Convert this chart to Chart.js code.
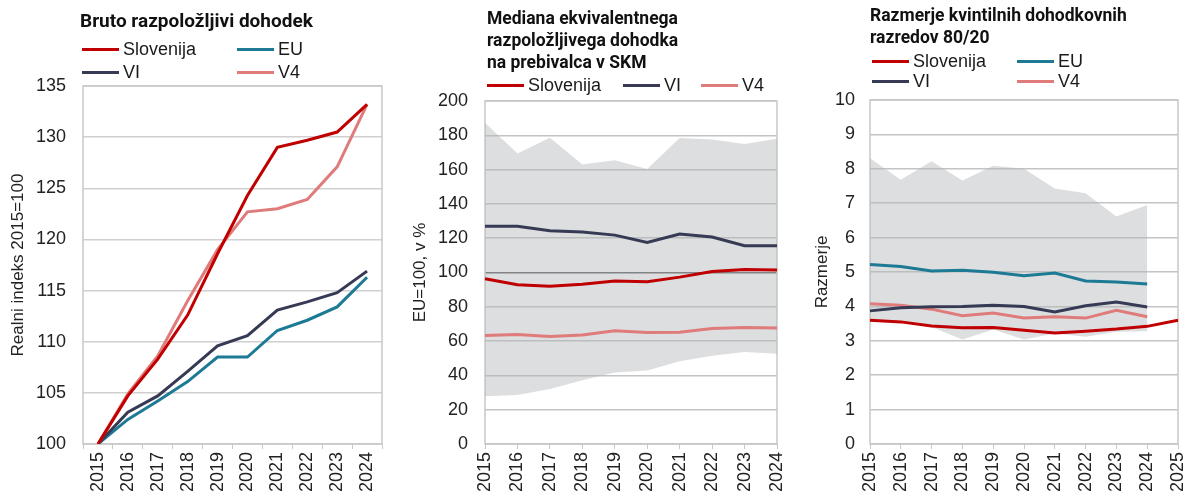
<!DOCTYPE html>
<html>
<head>
<meta charset="utf-8">
<script src="https://cdn.jsdelivr.net/npm/chart.js@4.4.1/dist/chart.umd.min.js"></script>
<style>
  body { margin: 0; background: #fff; width: 1188px; height: 496px; position: relative; overflow: hidden;
         font-family: "Liberation Sans", Arial, sans-serif; color: #1a1a1a; }
  canvas { position: absolute; top: 0; }
  .title { position: absolute; font-family: Roboto, "Liberation Sans", sans-serif; font-weight: bold;
           font-size: 17.5px; line-height: 22px; color: #111; white-space: nowrap; }
  .leg { position: absolute; font-size: 18px; line-height: 20px; white-space: nowrap; }
  .leg i { display: inline-block; width: 37px; height: 3px; vertical-align: middle; margin-right: 4px; position: relative; top: -1px; }
</style>
</head>
<body>
<canvas id="c1" width="400" height="496" style="left:0"></canvas>
<canvas id="c2" width="400" height="496" style="left:400px"></canvas>
<canvas id="c3" width="388" height="496" style="left:800px"></canvas>

<div class="title" style="left:80px;top:10px;font-size:19px">Bruto razpoložljivi dohodek</div>
<div class="leg" style="left:82px;top:39px"><i style="background:#C00000"></i>Slovenija</div>
<div class="leg" style="left:237px;top:39px"><i style="background:#1D7A94"></i>EU</div>
<div class="leg" style="left:82px;top:62px"><i style="background:#363A55"></i>VI</div>
<div class="leg" style="left:237px;top:62px"><i style="background:#E07B7B"></i>V4</div>

<div class="title" style="left:487px;top:7px">Mediana ekvivalentnega<br>razpoložljivega dohodka<br>na prebivalca v SKM</div>
<div class="leg" style="left:487px;top:75px"><i style="background:#C00000"></i>Slovenija</div>
<div class="leg" style="left:623px;top:75px"><i style="background:#363A55"></i>VI</div>
<div class="leg" style="left:701px;top:75px"><i style="background:#E07B7B"></i>V4</div>

<div class="title" style="left:870px;top:4px">Razmerje kvintilnih dohodkovnih<br>razredov 80/20</div>
<div class="leg" style="left:872px;top:51px"><i style="background:#C00000"></i>Slovenija</div>
<div class="leg" style="left:1017px;top:51px"><i style="background:#1D7A94"></i>EU</div>
<div class="leg" style="left:872px;top:71px"><i style="background:#363A55"></i>VI</div>
<div class="leg" style="left:1017px;top:71px"><i style="background:#E07B7B"></i>V4</div>

<script>
// panel 1: bruto razpolozljivi dohodek (2015=100)
const years1 = ['2015', '2016', '2017', '2018', '2019', '2020', '2021', '2022', '2023', '2024'];
const p1Slovenija = [100, 104.7, 108.3, 112.6, 118.6, 124.3, 129.0, 129.7, 130.5, 133.2];
const p1EU = [100, 102.4, 104.2, 106.1, 108.5, 108.5, 111.1, 112.1, 113.4, 116.3];
const p1VI = [100, 103.1, 104.7, 107.1, 109.6, 110.6, 113.1, 113.9, 114.8, 116.9];
const p1V4 = [100, 104.9, 108.6, 114.0, 119.0, 122.7, 123.0, 123.9, 127.1, 133.2];

// panel 2: mediana, EU=100
const years2 = ['2015', '2016', '2017', '2018', '2019', '2020', '2021', '2022', '2023', '2024'];
const p2Max = [187.3, 169.4, 178.5, 163.0, 165.5, 160.4, 178.4, 177.6, 175.0, 178.0];
const p2Min = [27.8, 28.5, 32.0, 37.1, 41.7, 42.9, 48.2, 51.5, 53.6, 52.6];
const p2Slovenija = [96.3, 92.8, 92.0, 93.2, 95.1, 94.6, 97.3, 100.6, 101.7, 101.4];
const p2VI = [126.9, 126.9, 124.4, 123.6, 121.8, 117.5, 122.4, 120.7, 115.6, 115.6];
const p2V4 = [63.3, 63.9, 62.7, 63.5, 66.0, 65.0, 65.2, 67.4, 68.0, 67.6];

// panel 3: razmerje 80/20
const years3 = ['2015', '2016', '2017', '2018', '2019', '2020', '2021', '2022', '2023', '2024', '2025'];
const p3Max = [8.31, 7.68, 8.22, 7.66, 8.09, 8.00, 7.43, 7.29, 6.61, 6.95, null];
const p3Min = [3.60, 3.55, 3.40, 3.04, 3.33, 3.04, 3.21, 3.12, 3.26, 3.28, null];
const p3Slovenija = [3.60, 3.55, 3.43, 3.38, 3.39, 3.31, 3.23, 3.28, 3.34, 3.42, 3.60];
const p3EU = [5.22, 5.16, 5.03, 5.05, 4.99, 4.89, 4.97, 4.74, 4.71, 4.65, null];
const p3VI = [3.87, 3.96, 3.99, 4.00, 4.03, 4.00, 3.84, 4.02, 4.13, 3.98, null];
const p3V4 = [4.08, 4.03, 3.92, 3.73, 3.81, 3.66, 3.70, 3.66, 3.89, 3.70, null];

const colSlo = '#C00000', colEU = '#1D7A94', colVI = '#363A55', colV4 = '#E07B7B';
const bandFill = 'rgba(178,181,186,0.45)';
const tickFont = { family: '"Liberation Sans", Arial, sans-serif', size: 18 };

// plot frame around chart area
const frame = {
    id: 'frame',
    beforeDatasetsDraw(chart) {
        const a = chart.chartArea, ctx = chart.ctx;
        ctx.save();
        ctx.strokeStyle = '#C8C8C8';
        ctx.lineWidth = 1.5;
        ctx.strokeRect(a.left, a.top, a.right - a.left, a.bottom - a.top);
        ctx.restore();
    }
};

const line = (data, color, order) => ({
    data, borderColor: color, borderWidth: 3, pointRadius: 0, tension: 0, fill: false, order, spanGaps: false
});

const band = (upper, lower) => [
    { data: upper, borderWidth: 0, pointRadius: 0, backgroundColor: bandFill, fill: '+1', order: 10 },
    { data: lower, borderWidth: 0, pointRadius: 0, fill: false, order: 11 }
];

function makeChart(id, labels, datasets, y, pad, yWidth, offset) {
    return new Chart(document.getElementById(id), {
        type: 'line',
        data: { labels, datasets },
        options: {
            responsive: false,
            animation: false,
            layout: { padding: pad },
            plugins: { legend: { display: false }, tooltip: { enabled: false } },
            scales: {
                x: {
                    offset,
                    grid: { drawOnChartArea: false, drawTicks: true, tickLength: 5, color: '#C8C8C8', offset },
                    border: { display: false },
                    ticks: { font: tickFont, color: '#222', minRotation: 90, maxRotation: 90, padding: 3, autoSkip: false },
                    afterFit: s => { s.height = 52; s.paddingLeft = 0; s.paddingRight = 0; }
                },
                y: {
                    min: y.min, max: y.max,
                    grid: { drawTicks: false, color: y.gridColor || '#D0D0D0', lineWidth: 1.5 },
                    border: { display: false },
                    ticks: { font: tickFont, color: '#222', stepSize: y.step, padding: y.tickPad },
                    title: { display: true, text: y.title, font: { family: tickFont.family, size: 17 }, color: '#222', padding: { top: y.titlePad, bottom: 0 } },
                    afterFit: s => { s.width = yWidth; }
                }
            }
        },
        plugins: [frame]
    });
}

makeChart('c1', years1, [
    line(p1Slovenija, colSlo, 1),
    line(p1EU, colEU, 4),
    line(p1VI, colVI, 3),
    line(p1V4, colV4, 2)
], { min: 100, max: 135, step: 5, title: 'Realni indeks 2015=100', tickPad: 17, titlePad: 8 },
   { top: 86, right: 18, bottom: 0, left: 0 }, 83, true);

makeChart('c2', years2, [
    line(p2Slovenija, colSlo, 1),
    line(p2VI, colVI, 2),
    line(p2V4, colV4, 3),
    ...band(p2Max, p2Min)
], { min: 0, max: 200, step: 20, title: 'EU=100, v %', tickPad: 17, titlePad: 10,
     gridColor: c => c.tick && c.tick.value === 100 ? '#5A5A5A' : '#C4C4C4' },
   { top: 101, right: 23, bottom: 0, left: 0 }, 85, false);

makeChart('c3', years3, [
    line(p3Slovenija, colSlo, 1),
    line(p3EU, colEU, 4),
    line(p3VI, colVI, 2),
    line(p3V4, colV4, 3),
    ...band(p3Max, p3Min)
], { min: 0, max: 10, step: 1, title: 'Razmerje', tickPad: 15, titlePad: 12, gridColor: '#C4C4C4' },
   { top: 100, right: 10, bottom: 0, left: 0 }, 70, false);
</script>
</body>
</html>
